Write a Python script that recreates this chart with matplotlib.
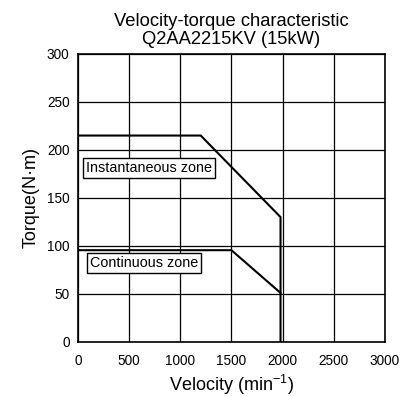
import matplotlib
matplotlib.use("Agg")
import matplotlib.pyplot as plt

plt.rcParams['font.family'] = ['Liberation Sans', 'DejaVu Sans']
plt.rcParams['mathtext.fontset'] = 'custom'
plt.rcParams['mathtext.rm'] = 'Liberation Sans'

# velocity-torque curve data (min^-1, N·m)
inst_speed = [0, 1200, 1980, 1980]
inst_torque = [215, 215, 130, 0]
cont_speed = [0, 1500, 1980]
cont_torque = [95.5, 95.5, 51]

x_ticks = [0, 500, 1000, 1500, 2000, 2500, 3000]
y_ticks = [0, 50, 100, 150, 200, 250, 300]

fig = plt.figure(figsize=(4.06, 3.97), dpi=100)
ax = fig.add_axes([0.192, 0.139, 0.756, 0.725])

ax.plot(inst_speed, inst_torque, color='black', lw=1.5, solid_joinstyle='miter')
ax.plot(cont_speed, cont_torque, color='black', lw=1.5, solid_joinstyle='miter')

ax.set_xlim(0, 3000)
ax.set_ylim(0, 300)
ax.set_xticks(x_ticks)
ax.set_yticks(y_ticks)
ax.grid(True, color='black', lw=0.9)
ax.tick_params(length=0, labelsize=9.8)
ax.tick_params(axis='x', pad=9)
ax.tick_params(axis='y', pad=6)
for s in ax.spines.values():
    s.set_linewidth(1.2)

ax.text(75, 181, 'Instantaneous zone', fontsize=10.4, va='center', ha='left',
        bbox=dict(boxstyle='square,pad=0.2', fc='white', ec='black', lw=1))
ax.text(115, 82.5, 'Continuous zone', fontsize=10.4, va='center', ha='left',
        bbox=dict(boxstyle='square,pad=0.2', fc='white', ec='black', lw=1))

ax.set_title('Velocity-torque characteristic\nQ2AA2215KV (15kW)', fontsize=13.2, pad=7,
             linespacing=1.1)
ax.set_xlabel(r'Velocity (min$^{\mathregular{-1}}$)', fontsize=13, labelpad=3)
ax.set_ylabel('Torque(N·m)', fontsize=13, labelpad=5)

fig.savefig('out.png', dpi=100)
